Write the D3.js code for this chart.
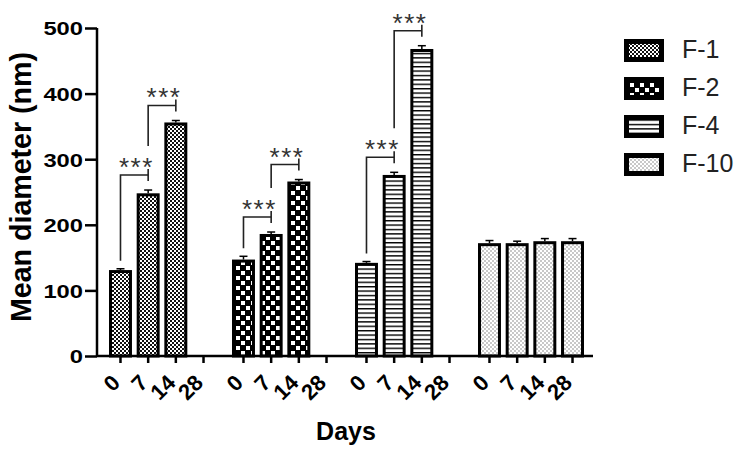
<!DOCTYPE html>
<html>
<head>
<meta charset="utf-8">
<script src="https://d3js.org/d3.v7.min.js"></script>
<style>
  body { margin: 0; background: #fff; }
  text { font-family: "Liberation Sans", Arial, sans-serif; }
</style>
</head>
<body>
<svg width="745" height="455"></svg>
<script>
// chart values
const groups = ["F-1", "F-2", "F-4", "F-10"];
const days = ["0", "7", "14", "28"];
const means = [
  [131, 248, 356, null],
  [147, 186, 266, null],
  [142, 276, 468, null],
  [172, 172, 175, 175]
];
const errs = [
  [2, 5, 3, null],
  [5, 3, 3, null],
  [2, 4, 5, null],
  [4, 3, 4, 4]
];
// pairs of days compared within a formulation (index into days)
const sigPairs = [
  ["F-1", 0, 1], ["F-1", 1, 2],
  ["F-2", 0, 1], ["F-2", 1, 2],
  ["F-4", 0, 1], ["F-4", 1, 2]
];
const sigLabel = "***";
const yTicks = [0, 100, 200, 300, 400, 500];

const svg = d3.select("svg");

let axisLeft = 97
let axisBottom = 356
let axisTop = 28

const y = d3.scaleLinear().domain([0, 500]).range([axisBottom, axisTop]);
const x0 = d3.scaleBand().domain(groups).range([axisLeft, 589]);
const x1 = d3.scaleBand().domain(days).range([12, 118]).paddingInner(0.17);

function cx(g, d) { return x0(g) + x1(d) + x1.bandwidth() / 2; }

// patterns
const defs = svg.append("defs");
const p1 = defs.append("pattern").attr("id", "pat0").attr("patternUnits", "userSpaceOnUse")
  .attr("width", 4).attr("height", 4);
p1.append("rect").attr("width", 4).attr("height", 4).attr("fill", "#111");
p1.append("rect").attr("x", 0).attr("y", 0).attr("width", 2).attr("height", 2).attr("fill", "#fff");
p1.append("rect").attr("x", 2).attr("y", 2).attr("width", 2).attr("height", 2).attr("fill", "#fff");

const p2 = defs.append("pattern").attr("id", "pat1").attr("patternUnits", "userSpaceOnUse")
  .attr("width", 10).attr("height", 10);
p2.append("rect").attr("width", 10).attr("height", 10).attr("fill", "#000");
p2.append("rect").attr("x", 1).attr("y", 1).attr("width", 4).attr("height", 4).attr("fill", "#fff");
p2.append("rect").attr("x", 6).attr("y", 6).attr("width", 4).attr("height", 4).attr("fill", "#fff");

const p3 = defs.append("pattern").attr("id", "pat2").attr("patternUnits", "userSpaceOnUse")
  .attr("width", 8).attr("height", 4.4);
p3.append("rect").attr("width", 8).attr("height", 4.4).attr("fill", "#fff");
p3.append("rect").attr("y", 0).attr("width", 8).attr("height", 1.4).attr("fill", "#000");

const p4 = defs.append("pattern").attr("id", "pat3").attr("patternUnits", "userSpaceOnUse")
  .attr("width", 4).attr("height", 4);
p4.append("rect").attr("width", 4).attr("height", 4).attr("fill", "#fff");
p4.append("circle").attr("cx", 1).attr("cy", 1).attr("r", 0.75).attr("fill", "#777");
p4.append("circle").attr("cx", 3).attr("cy", 3).attr("r", 0.75).attr("fill", "#777");

// bars
const barData = [];
groups.forEach((g, gi) => {
  days.forEach((d, di) => {
    if (means[gi][di] != null) barData.push({g, gi, d, v: means[gi][di], e: errs[gi][di]});
  });
});

const bars = svg.append("g");
bars.selectAll("line.err")
  .data(barData)
  .enter().append("line")
  .attr("class", "err")
  .attr("x1", d => cx(d.g, d.d)).attr("x2", d => cx(d.g, d.d))
  .attr("y1", d => y(d.v)).attr("y2", d => y(d.v + d.e))
  .attr("stroke", "#000").attr("stroke-width", 1.5);
bars.selectAll("line.cap")
  .data(barData)
  .enter().append("line")
  .attr("class", "cap")
  .attr("x1", d => cx(d.g, d.d) - 4).attr("x2", d => cx(d.g, d.d) + 4)
  .attr("y1", d => y(d.v + d.e)).attr("y2", d => y(d.v + d.e))
  .attr("stroke", "#000").attr("stroke-width", 1.5);
bars.selectAll("rect")
  .data(barData)
  .enter().append("rect")
  .attr("x", d => x0(d.g) + x1(d.d) + 1.5)
  .attr("y", d => y(d.v) + 1.5)
  .attr("width", x1.bandwidth() - 3)
  .attr("height", d => y(0) - y(d.v) - 1.5)
  .attr("fill", d => "url(#pat" + d.gi + ")")
  .attr("stroke", "#000")
  .attr("stroke-width", 3);

// significance brackets
const sig = svg.append("g");
let prevStarTop = {};
sigPairs.forEach(([g, a, b]) => {
  const gi = groups.indexOf(g);
  const xa = cx(g, days[a]), xb = cx(g, days[b]);
  const topA = y(means[gi][a] + errs[gi][a]);
  const topB = y(means[gi][b] + errs[gi][b]);
  const hy = topB - 15;
  let legBottom = topA - 8;
  if (prevStarTop[g + a] != null) legBottom = Math.min(legBottom, prevStarTop[g + a] - 7);
  sig.append("path")
    .attr("d", `M${xa},${legBottom}V${hy}H${xb}`)
    .attr("fill", "none").attr("stroke", "#222").attr("stroke-width", 1.6);
  sig.append("line")
    .attr("x1", xb).attr("x2", xb).attr("y1", hy - 6).attr("y2", hy + 6)
    .attr("stroke", "#222").attr("stroke-width", 1.6);
  sig.append("text")
    .attr("x", (xa + xb) / 2 + 2)
    .attr("y", hy + 1)
    .attr("text-anchor", "middle")
    .attr("font-size", 26)
    .attr("letter-spacing", 1.5)
    .attr("fill", "#333")
    .text(sigLabel);
  prevStarTop[g + b] = hy - 22;
});

// y axis
const yAxis = svg.append("g")
  .attr("transform", `translate(${axisLeft},0)`)
  .call(d3.axisLeft(y).tickValues(yTicks).tickSize(12).tickPadding(4));
yAxis.select(".domain").attr("stroke-width", 2.5).attr("d", `M0,${axisTop}V${axisBottom}`);
yAxis.selectAll(".tick line").attr("stroke-width", 2.5);
yAxis.selectAll(".tick text")
  .attr("font-family", "'Liberation Sans', Arial, sans-serif")
  .attr("font-size", 19).attr("font-weight", "bold").attr("fill", "#000")
  .attr("x", 0).attr("dy", "0.36em")
  .attr("transform", "translate(-14,0) scale(1.25,1)");

// x axis
const xTicks = [];
groups.forEach(g => days.forEach(d => xTicks.push({g, d})));
const xAxis = svg.append("g");
xAxis.append("line")
  .attr("x1", axisLeft).attr("x2", 593).attr("y1", axisBottom).attr("y2", axisBottom)
  .attr("stroke", "#000").attr("stroke-width", 2.5);
xAxis.selectAll("line.tick")
  .data(xTicks)
  .enter().append("line")
  .attr("class", "tick")
  .attr("x1", d => cx(d.g, d.d)).attr("x2", d => cx(d.g, d.d))
  .attr("y1", axisBottom).attr("y2", axisBottom + 7)
  .attr("stroke", "#000").attr("stroke-width", 2.5);
xAxis.selectAll("text")
  .data(xTicks)
  .enter().append("text")
  .attr("transform", d => `translate(${cx(d.g, d.d) + 1},${axisBottom + 28}) rotate(-45)`)
  .attr("text-anchor", "end")
  .attr("font-size", 22).attr("font-weight", "bold")
  .text(d => d.d);

// axis titles
svg.append("text")
  .attr("transform", "translate(31,187) rotate(-90)")
  .attr("text-anchor", "middle")
  .attr("font-size", 29).attr("font-weight", "bold")
  .attr("textLength", 270).attr("lengthAdjust", "spacingAndGlyphs")
  .text("Mean diameter (nm)");
svg.append("text")
  .attr("x", 346).attr("y", 440)
  .attr("text-anchor", "middle")
  .attr("font-size", 25).attr("font-weight", "bold")
  .text("Days");

// legend
const legend = svg.append("g");
const legRows = legend.selectAll("g")
  .data(groups)
  .enter().append("g")
  .attr("transform", (d, i) => `translate(624,${39 + i * 38})`);
legRows.append("rect")
  .attr("x", 2.5).attr("y", 2.5).attr("width", 35).attr("height", 18)
  .attr("fill", (d, i) => "url(#pat" + i + ")")
  .attr("stroke", "#000").attr("stroke-width", 5);
legRows.append("text")
  .attr("x", 58).attr("y", 19)
  .attr("font-size", 25)
  .attr("fill", "#222")
  .text(d => d);
</script>
</body>
</html>
